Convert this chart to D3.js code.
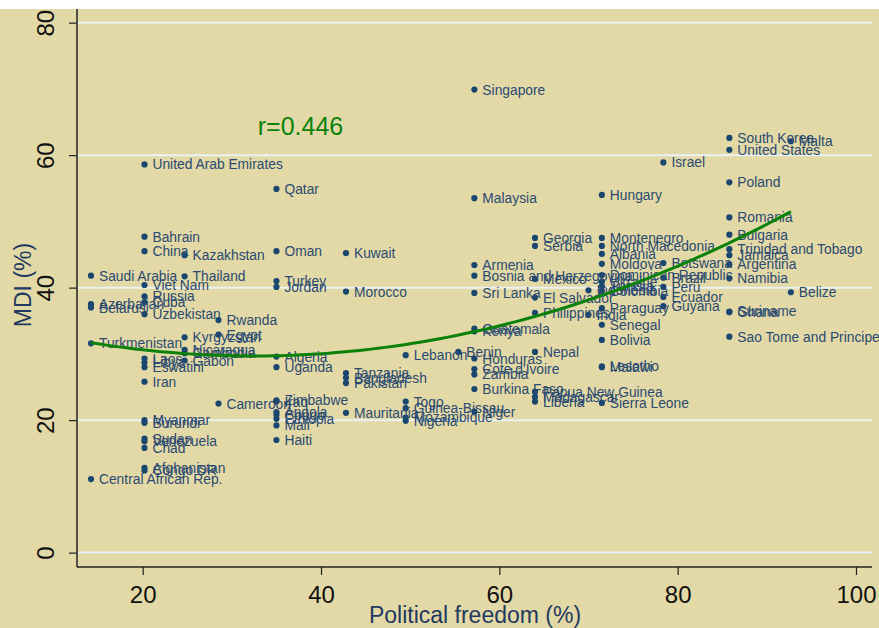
<!DOCTYPE html>
<html>
<head>
<meta charset="utf-8">
<script src="https://cdn.jsdelivr.net/npm/d3@7"></script>
<style>
  body { margin: 0; background: #fff; }
  svg { display: block; font-family: "Liberation Sans", Arial, sans-serif; }
</style>
</head>
<body>
<svg id="chart" width="879" height="628"></svg>
<script>
// data: political freedom (%) vs MDI (%)
var countries = [
  "Saudi Arabia", "Azerbaijan", "Belarus", "Turkmenistan", "Central African Rep.",
  "United Arab Emirates", "Bahrain", "China", "Viet Nam", "Russia", "Cuba", "Uzbekistan",
  "Laos", "Libya", "Eswatini", "Iran", "Myanmar", "Burundi", "Sudan", "Venezuela", "Chad",
  "Afghanistan", "Congo DR",
  "Kazakhstan", "Thailand", "Kyrgyzstan", "Nicaragua", "Cambodia", "Gabon",
  "Rwanda", "Egypt", "Cameroon",
  "Qatar", "Oman", "Turkey", "Jordan", "Algeria", "Uganda", "Zimbabwe", "Iraq", "Angola",
  "Congo", "Ethiopia", "Mali", "Haiti",
  "Kuwait", "Morocco", "Tanzania", "Bangladesh", "Pakistan", "Mauritania",
  "Lebanon", "Togo", "Guinea-Bissau", "Mozambique", "Nigeria",
  "Benin",
  "Singapore", "Malaysia", "Armenia", "Bosnia and Herzegovina", "Sri Lanka", "Guatemala",
  "Kenya", "Honduras", "Cote d'Ivoire", "Zambia", "Burkina Faso", "Niger",
  "Georgia", "Serbia", "Mexico", "El Salvador", "Philippines", "Nepal", "Papua New Guinea",
  "Madagascar", "Liberia",
  "Indonesia", "India",
  "Hungary", "Montenegro", "North Macedonia", "Albania", "Moldova", "Dominican Republic",
  "Ukraine", "Tunisia", "Colombia", "Paraguay", "Senegal", "Bolivia", "Lesotho", "Malawi",
  "Sierra Leone",
  "Israel", "Botswana", "Brazil", "Peru", "Ecuador", "Guyana",
  "South Korea", "United States", "Poland", "Romania", "Bulgaria", "Trinidad and Tobago",
  "Jamaica", "Argentina", "Namibia", "Suriname", "Ghana", "Sao Tome and Principe",
  "Malta", "Belize"
];

var freedom = [
  14.2, 14.2, 14.2, 14.2, 14.2,
  20.2, 20.2, 20.2, 20.2, 20.2, 20.2, 20.2,
  20.2, 20.2, 20.2, 20.2, 20.2, 20.2, 20.2, 20.2, 20.2,
  20.2, 20.2,
  24.7, 24.7, 24.7, 24.7, 24.7, 24.7,
  28.5, 28.5, 28.5,
  35, 35, 35, 35, 35, 35, 35, 35, 35,
  35, 35, 35, 35,
  42.8, 42.8, 42.8, 42.8, 42.8, 42.8,
  49.5, 49.5, 49.5, 49.5, 49.5,
  55.4,
  57.2, 57.2, 57.2, 57.2, 57.2, 57.2,
  57.2, 57.2, 57.2, 57.2, 57.2, 57.2,
  64, 64, 64, 64, 64, 64, 64,
  64, 64,
  70, 70,
  71.5, 71.5, 71.5, 71.5, 71.5, 71.5,
  71.5, 71.5, 71.5, 71.5, 71.5, 71.5, 71.5, 71.5,
  71.5,
  78.4, 78.4, 78.4, 78.4, 78.4, 78.4,
  85.8, 85.8, 85.8, 85.8, 85.8, 85.8,
  85.8, 85.8, 85.8, 85.8, 85.8, 85.8,
  92.7, 92.7
];

var mdi = [
  41.8, 37.5, 37.0, 31.6, 11.1,
  58.6, 47.7, 45.5, 40.4, 38.7, 37.8, 36.0,
  29.3, 28.7, 28.0, 25.8, 20.0, 19.6, 17.2, 16.8, 15.8,
  12.8, 12.4,
  44.9, 41.7, 32.5, 30.6, 30.1, 29.0,
  35.1, 32.9, 22.5,
  54.9, 45.5, 41.0, 40.1, 29.6, 28.0, 23.0, 22.8, 21.2,
  20.8, 20.2, 19.2, 17.0,
  45.2, 39.4, 27.1, 26.4, 25.6, 21.1,
  29.8, 22.8, 21.8, 20.4, 19.9,
  30.3,
  69.9, 53.5, 43.4, 41.8, 39.2, 33.8,
  33.4, 29.3, 27.7, 26.9, 24.7, 21.3,
  47.5, 46.3, 41.3, 38.5, 36.2, 30.3, 24.3,
  23.5, 22.8,
  39.6, 35.9,
  54.0, 47.5, 46.3, 45.1, 43.6, 41.9,
  40.9, 40.2, 39.5, 36.9, 34.4, 32.1, 28.1, 28.0,
  22.6,
  58.9, 43.7, 41.5, 40.1, 38.6, 37.2,
  62.6, 60.8, 55.9, 50.6, 48.0, 45.8,
  44.9, 43.5, 41.4, 36.4, 36.3, 32.6,
  62.1, 39.3
];

var xTicks = [20, 40, 60, 80, 100];
var yTicks = [0, 20, 40, 60, 80];
var corrLabel = "r=0.446";

var svg = d3.select("#chart"),
  width = +svg.attr("width"),
  height = +svg.attr("height");

var bg = "#e3d9a6", navy = "#1a476f", grid = "#eaf2f3", green = "#0a820a";

// beige graph region (white strip on top, as in the crop)
svg.append("rect").attr("x", 0).attr("y", 9).attr("width", width).attr("height", height - 9).attr("fill", bg);

var plotLeft = 77, plotRight = 872, plotTop = 9, plotBottom = 567;

var x = d3.scaleLinear().domain([12.63, 101.8]).range([plotLeft, plotRight]);
var y = d3.scaleLinear().domain([-2.17, 82.06]).range([plotBottom, plotTop]);

// gridlines
svg.append("g").selectAll("line").data(yTicks).enter().append("line")
  .attr("x1", plotLeft).attr("x2", plotRight)
  .attr("y1", function(d) { return y(d); }).attr("y2", function(d) { return y(d); })
  .attr("stroke", grid).attr("stroke-width", 2);

// axes
var xAxis = svg.append("g").attr("transform", "translate(0," + plotBottom + ")")
  .call(d3.axisBottom(x).tickValues(xTicks).tickSize(8).tickPadding(10));
var yAxis = svg.append("g").attr("transform", "translate(" + plotLeft + ",0)")
  .call(d3.axisLeft(y).tickValues(yTicks).tickSize(8));

[xAxis, yAxis].forEach(function(g) {
  g.attr("font-size", 24).attr("font-family", "Liberation Sans, Arial, sans-serif");
  g.select(".domain").attr("stroke", "#222").attr("stroke-width", 1.5);
  g.selectAll(".tick line").attr("stroke", "#222").attr("stroke-width", 1.2);
});
xAxis.selectAll(".domain").attr("d", "M" + plotLeft + ",0H" + plotRight);
yAxis.selectAll(".domain").attr("d", "M0," + plotTop + "V" + plotBottom);

xAxis.selectAll("text").attr("fill", "#111").attr("dy", null).attr("y", 36);
yAxis.selectAll("text").attr("fill", "#111")
  .attr("x", null).attr("dy", null).attr("text-anchor", "middle")
  .attr("transform", "translate(-23,0) rotate(-90)");

// axis titles
svg.append("text").attr("x", 475).attr("y", 623).attr("text-anchor", "middle")
  .attr("font-size", 23).attr("fill", "#1f3a5f").text("Political freedom (%)");
svg.append("text").attr("transform", "translate(31,285) rotate(-90)").attr("text-anchor", "middle")
  .attr("font-size", 23).attr("fill", "#1f3a5f").text("MDI (%)");

var pts = countries.map(function(c, i) { return { name: c, fx: freedom[i], m: mdi[i] }; });

// quadratic fit (least squares), like Stata's qfit
function qfit(xs, ys) {
  var n = xs.length, s = [0, 0, 0, 0, 0], t = [0, 0, 0];
  for (var i = 0; i < n; i++) {
    var p = 1;
    for (var k = 0; k < 5; k++) { s[k] += p; if (k < 3) t[k] += p * ys[i]; p *= xs[i]; }
  }
  var A = [[s[0], s[1], s[2], t[0]], [s[1], s[2], s[3], t[1]], [s[2], s[3], s[4], t[2]]];
  for (var c = 0; c < 3; c++) {
    for (var r = c + 1; r < 3; r++) {
      var f = A[r][c] / A[c][c];
      for (var j = c; j < 4; j++) A[r][j] -= f * A[c][j];
    }
  }
  var b = [0, 0, 0];
  for (var r2 = 2; r2 >= 0; r2--) {
    var v = A[r2][3];
    for (var j2 = r2 + 1; j2 < 3; j2++) v -= A[r2][j2] * b[j2];
    b[r2] = v / A[r2][r2];
  }
  return b;
}
var coef = qfit(freedom, mdi);
var xmin = d3.min(freedom), xmax = d3.max(freedom);
var fitPts = d3.range(0, 101).map(function(i) {
  var fx = xmin + (xmax - xmin) * i / 100;
  return [fx, coef[0] + coef[1] * fx + coef[2] * fx * fx];
});

// markers and labels
var g = svg.append("g");
g.selectAll("circle").data(pts).enter().append("circle")
  .attr("cx", function(d) { return x(d.fx); })
  .attr("cy", function(d) { return y(d.m); })
  .attr("r", 3.1).attr("fill", navy);

g.selectAll("text").data(pts).enter().append("text")
  .attr("x", function(d) { return x(d.fx) + 8; })
  .attr("y", function(d) { return y(d.m) + 5; })
  .attr("font-size", 13.8).attr("fill", "#2a4a72")
  .text(function(d) { return d.name; });

svg.append("path").datum(fitPts)
  .attr("d", d3.line().x(function(d) { return x(d[0]); }).y(function(d) { return y(d[1]); }))
  .attr("fill", "none").attr("stroke", green).attr("stroke-width", 3);

svg.append("text").attr("x", x(32.9)).attr("y", y(63.0))
  .attr("font-size", 25).attr("fill", green).text(corrLabel);
</script>
</body>
</html>
